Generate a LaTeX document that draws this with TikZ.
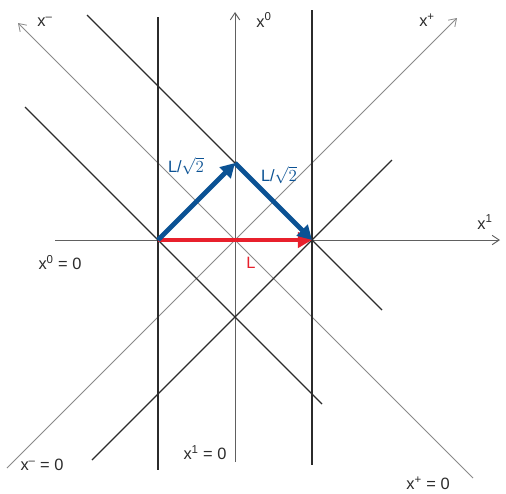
\documentclass[tikz,border=0pt]{standalone}
\usepackage{fontspec}
\setmainfont{Liberation Sans}
\usetikzlibrary{arrows.meta}
\definecolor{LcBlue}{HTML}{0B5294}
\definecolor{LcRed}{HTML}{E8202C}
\definecolor{LcInk}{HTML}{2B2B2B}
\definecolor{LcGrey}{HTML}{8A8A8A}

\begin{document}
\begin{tikzpicture}[x=0.03cm, y=-0.03cm, font=\fontsize{14}{16}\selectfont,
  axis/.style={draw=LcInk!75, line width=0.8pt, -{Straight Barb[length=6pt, width=8pt]}},
  lightaxis/.style={draw=LcGrey, line width=0.7pt, -{Straight Barb[length=6pt, width=8pt]}},
  grid line/.style={draw=LcInk, line width=0.95pt},
  vec/.style={line width=4.2pt, -{Triangle[length=12pt, width=13pt]}},
  lbl/.style={inner sep=1pt, text=LcInk}]

\fill[white] (0,0) rectangle (506,493);
\useasboundingbox (0,0) rectangle (506,493);

% corners of the diamond
\coordinate (A) at (158,240);
\coordinate (O) at (235,240);
\coordinate (B) at (312,240);
\coordinate (C) at (235,163);
\coordinate (D) at (235,317);

% ends of the lines
\coordinate (x1s) at (55,240);   \coordinate (x1e) at (500,240);
\coordinate (x0s) at (235,462);  \coordinate (x0e) at (235,12);
\coordinate (xps) at (7,468);    \coordinate (xpe) at (457,18);
\coordinate (xms) at (473,478);  \coordinate (xme) at (18,23);
\coordinate (vLs) at (158,17);   \coordinate (vLe) at (158,470);
\coordinate (vRs) at (312,10);   \coordinate (vRe) at (312,465);
\coordinate (l1s) at (87,15);    \coordinate (l1e) at (382,310);
\coordinate (l2s) at (25,107);   \coordinate (l2e) at (322,404);
\coordinate (l3s) at (92,460);   \coordinate (l3e) at (392,160);

% axes
\draw[axis] (x1s) -- (x1e);
\draw[axis] (x0s) -- (x0e);
\draw[lightaxis] (xps) -- (xpe);
\draw[lightaxis] (xms) -- (xme);

% constant lines
\draw[grid line] (vLs) -- (vLe);
\draw[grid line] (vRs) -- (vRe);
\draw[grid line] (l1s) -- (l1e);
\draw[grid line] (l2s) -- (l2e);
\draw[grid line] (l3s) -- (l3e);

% vectors
\draw[vec, LcRed] (A) -- (B);
\draw[vec, LcBlue] (A) -- (C);
\draw[vec, LcBlue] (C) -- (B);

% labels
\node[lbl] (tm) at (45,22) {x\textsuperscript{--}};
\node[lbl] (t0) at (264,20) {x\textsuperscript{0}};
\node[lbl] (tp) at (427,20) {x\textsuperscript{+}};
\node[lbl] (t1) at (485,222) {x\textsuperscript{1}};
\node[lbl] (z0) at (60,263) {x\textsuperscript{0} = 0};
\node[lbl] (zm) at (42,465) {x\textsuperscript{--} = 0};
\node[lbl] (z1) at (205,453) {x\textsuperscript{1} = 0};
\node[lbl] (zp) at (428,483) {x\textsuperscript{+} = 0};
\node[lbl, text=LcBlue] (la) at (186,166) {L/$\sqrt{2}$};
\node[lbl, text=LcBlue] (lb) at (279,175) {L/$\sqrt{2}$};
\node[lbl, text=LcRed] (lc) at (251,263) {L};
\end{tikzpicture}
\end{document}
